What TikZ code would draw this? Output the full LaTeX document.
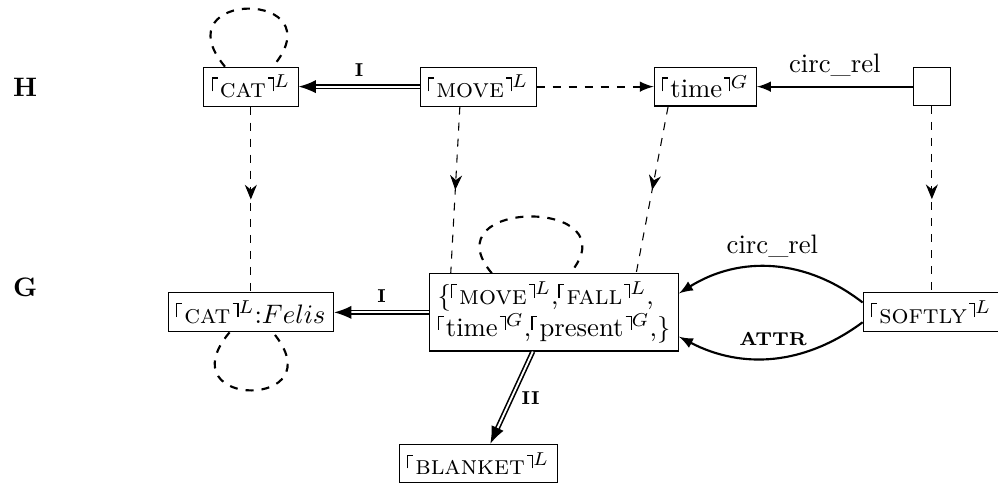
\documentclass[tikz,border=0pt]{standalone}
\usepackage{amsmath, amssymb}
\usetikzlibrary{arrows.meta, decorations.markings}

\newcommand{\lcnr}{\rule[2.4pt]{0.45pt}{5.2pt}\rule[7.15pt]{1.8pt}{0.45pt}\kern0.8pt}
\newcommand{\rcnr}{\kern0.8pt\rule[7.15pt]{1.8pt}{0.45pt}\rule[2.4pt]{0.45pt}{5.2pt}}
\newcommand{\cnr}[2]{\lcnr#1\rcnr$^{#2}$}

\begin{document}
\begin{tikzpicture}[>=latex,
	box/.style = {draw, inner sep=3pt},
	hyper/.style = {thin, dashed, postaction={decorate},
		decoration={markings, mark=at position 0.5 with {\arrow{Stealth[length=5.5pt, width=4.5pt]}}}},
	loopy/.style = {thick, dashed},
	dbl/.style = {line width=0.6pt, double, double distance=0.7pt, -{Latex[length=6.5pt, width=5pt]}},
	lbl/.style = {font=\scriptsize\bfseries}]
	\useasboundingbox (0,0) rectangle (13.13,6.36);
	\clip (0,0) rectangle (13.13,6.36);
	%%%	Livelli
	\node[font=\bfseries] (labH) at (0.33,5.21) {H};
	\node[font=\bfseries] (labG) at (0.33,2.58) {G};
	%%%	H
	\node[box] (catH) at (3.30,5.22) {\cnr{\textsc{cat}}{L}};
	\node[box] (moveH) at (6.29,5.22) {\cnr{\textsc{move}}{L}};
	\node[box] (timeH) at (9.28,5.22) {\cnr{time}{G}};
	\node[box, minimum size=14pt] (emptyH) at (12.26,5.22) {};
	%%%	G
	\node[box] (catG) at (3.30,2.25) {\cnr{\textsc{cat}}{L}$\mathord{:}Felis$};
	\node[box, align=left] (setG) at (7.29,2.25) {$\{$\cnr{\textsc{move}}{L},\cnr{\textsc{fall}}{L},\\\cnr{time}{G},\cnr{present}{G},$\}$};
	\node[box] (softlyG) at (12.25,2.25) {\cnr{\textsc{softly}}{L}};
	\node[box] (blanketG) at (6.29,0.26) {\cnr{\textsc{blanket}}{L}};
	%%%	Archi H
	\draw[dbl] (moveH) -- (catH) node[midway, above, lbl] {I};
	\draw[thick, dashed, ->] (moveH) -- (timeH);
	\draw[thick, ->] (emptyH) -- (timeH) node[midway, above] {circ\_rel};
	\draw[loopy] ([xshift=-0.34cm]catH.north) to[out=130, in=50, distance=1.33cm] ([xshift=0.29cm]catH.north);
	%%%	H -> G
	\draw[hyper] (catH) -- (catG);
	\draw[hyper] ([xshift=-0.24cm]moveH.south) -- ([xshift=-1.36cm]setG.north);
	\draw[hyper] ([xshift=-0.49cm]timeH.south) -- ([xshift=1.08cm]setG.north);
	\draw[hyper] (emptyH.south) -- (emptyH.south |- softlyG.north);
	%%%	Archi G
	\draw[dbl] (setG) -- (catG) node[midway, above, lbl] {I};
	\draw[dbl] ([xshift=-0.28cm]setG.south) -- ([xshift=0.16cm]blanketG.north) node[midway, right, lbl] {II};
	\draw[thick, ->] ([yshift=0.13cm]softlyG.west) to[bend right=35] node[midway, above] {circ\_rel} ([yshift=0.25cm]setG.east);
	\draw[thick, ->] ([yshift=-0.13cm]softlyG.west) to[bend left=32] node[midway, above=1pt, lbl] {ATTR} ([yshift=-0.32cm]setG.east);
	\draw[loopy] ([xshift=-0.28cm]catG.south) to[out=-130, in=-50, distance=1.33cm] ([xshift=0.29cm]catG.south);
	\draw[loopy] ([xshift=-0.82cm]setG.north) to[out=130, in=50, distance=1.3cm] ([xshift=0.21cm]setG.north);
\end{tikzpicture}
\end{document}
